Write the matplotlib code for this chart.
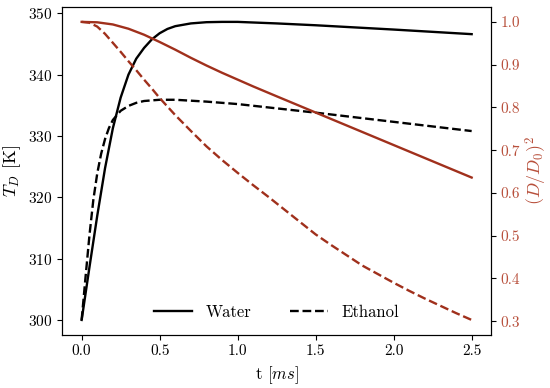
import matplotlib
matplotlib.use("Agg")
import matplotlib.pyplot as plt

plt.rcParams['font.family'] = 'serif'
plt.rcParams['font.serif'] = ['cmr10', 'DejaVu Serif']
plt.rcParams['mathtext.fontset'] = 'cm'
plt.rcParams['axes.formatter.use_mathtext'] = True

# droplet temperature (left axis)
t_water_T = [0, 0.05, 0.1, 0.15, 0.2, 0.25, 0.3, 0.35, 0.4, 0.45, 0.5, 0.55, 0.6, 0.7, 0.8, 0.9, 1.0, 1.25, 1.5, 2.0, 2.5]
T_water = [300, 308.6, 317.0, 324.75, 331.25, 336.25, 340.0, 342.6, 344.35, 345.75, 346.75, 347.45, 347.9, 348.35,
           348.55, 348.6, 348.6, 348.35, 348.05, 347.35, 346.6]

t_eth_T = [0, 0.025, 0.05, 0.075, 0.1, 0.125, 0.15, 0.175, 0.2, 0.25, 0.3, 0.35, 0.4, 0.5, 0.6, 0.8, 1.0, 1.25, 1.5, 2.0, 2.5]
T_eth = [300, 307, 313.8, 319.6, 323.9, 327.1, 329.5, 331.3, 332.6, 334.1, 334.9, 335.4, 335.7, 335.9, 335.9,
         335.6, 335.2, 334.5, 333.8, 332.3, 330.8]

# (D/D0)^2 (right axis)
t_water_D = [0, 0.1, 0.2, 0.3, 0.4, 0.5, 0.6, 0.7, 0.8, 0.9, 1.0, 1.1, 1.25, 1.5, 1.75, 2.0, 2.25, 2.5]
D_water = [1.0, 0.999, 0.994, 0.984, 0.97, 0.953, 0.935, 0.916, 0.898, 0.881, 0.865, 0.849, 0.826, 0.788, 0.75,
           0.712, 0.674, 0.636]

t_eth_D = [0, 0.05, 0.1, 0.15, 0.2, 0.25, 0.3, 0.35, 0.4, 0.45, 0.5, 0.6, 0.7, 0.8, 0.9, 1.0, 1.1, 1.2, 1.3, 1.4,
           1.5, 1.6, 1.7, 1.8, 1.9, 2.0, 2.1, 2.2, 2.3, 2.4, 2.5]
D_eth = [1.0, 0.998, 0.989, 0.972, 0.951, 0.93, 0.908, 0.887, 0.865, 0.844, 0.822, 0.782, 0.745, 0.709, 0.677,
         0.647, 0.618, 0.59, 0.561, 0.532, 0.503, 0.478, 0.454, 0.43, 0.41, 0.39, 0.371, 0.353, 0.336, 0.319, 0.303]

red = '#a0301c'
red_txt = '#b8503c'
lw = 1.7

fig, ax = plt.subplots(figsize=(5.5, 3.88), dpi=100)
fig.subplots_adjust(left=0.113, right=0.893, top=0.982, bottom=0.137)

l1, = ax.plot(t_water_T, T_water, color='black', lw=lw, label='Water')
l2, = ax.plot(t_eth_T, T_eth, color='black', lw=lw, ls='--', label='Ethanol')
ax.set_xlabel(r't $[ms]$', fontsize=12)
ax.set_ylabel(r'$T_D$ [K]', fontsize=13)
ax.set_xticks([0.0, 0.5, 1.0, 1.5, 2.0, 2.5])
ax.set_xticklabels(['0.0', '0.5', '1.0', '1.5', '2.0', '2.5'])
ax.tick_params(labelsize=11)

ax2 = ax.twinx()
ax2.plot(t_water_D, D_water, color=red, lw=lw)
ax2.plot(t_eth_D, D_eth, color=red, lw=lw, ls='--')
ax2.set_ylabel(r'$(D/D_0)^2$', color=red_txt, fontsize=13, labelpad=2)
ax2.tick_params(labelsize=11, labelcolor=red_txt)
ax2.set_yticks([0.3, 0.4, 0.5, 0.6, 0.7, 0.8, 0.9, 1.0])
ax2.set_yticklabels(['0.3', '0.4', '0.5', '0.6', '0.7', '0.8', '0.9', '1.0'])

ax.legend(handles=[l1, l2], loc='lower center', ncol=2, frameon=False, fontsize=12,
          handlelength=2.3, columnspacing=2.3)

fig.savefig('out.png')
